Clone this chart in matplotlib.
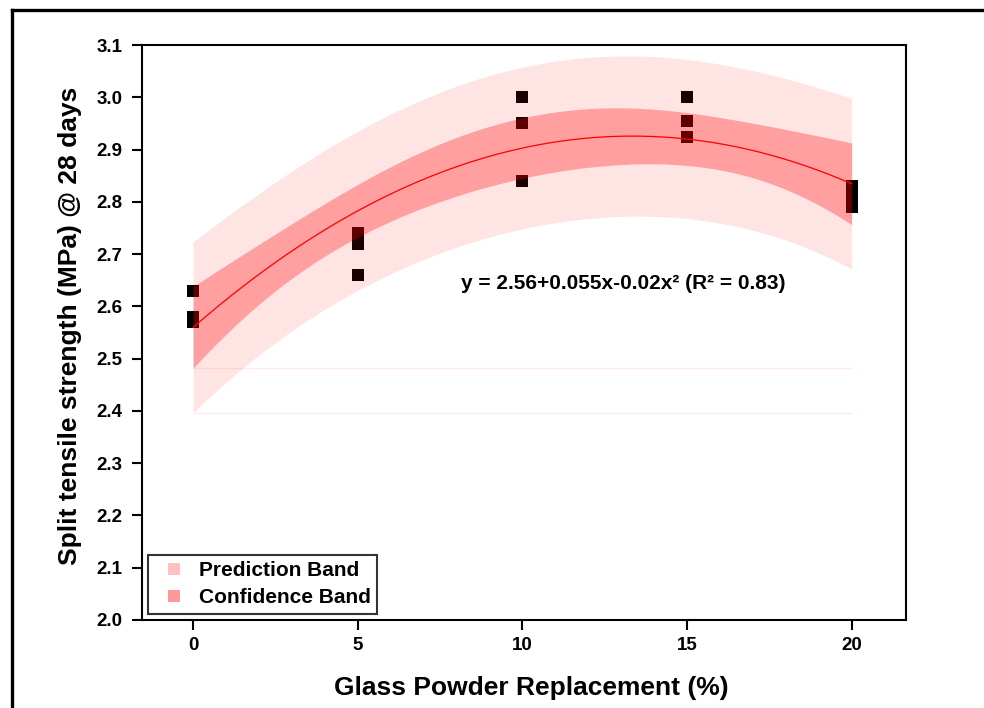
import numpy as np
import matplotlib
matplotlib.use("Agg")
import matplotlib.pyplot as plt
from matplotlib.lines import Line2D

plt.rcParams['font.family'] = ['Liberation Sans', 'DejaVu Sans']
plt.rcParams['font.weight'] = 'bold'

# --- data ---
glass_pct = [0, 0, 0, 5, 5, 5, 10, 10, 10, 15, 15, 15, 20, 20, 20]
split_strength = [2.63, 2.58, 2.57, 2.74, 2.72, 2.66, 3.00, 2.95, 2.84,
                  3.00, 2.955, 2.925, 2.83, 2.81, 2.79]
x_ticks = [0, 5, 10, 15, 20]
y_ticks = [2.0, 2.1, 2.2, 2.3, 2.4, 2.5, 2.6, 2.7, 2.8, 2.9, 3.0, 3.1]
equation = "y = 2.56+0.055x-0.02x\u00b2 (R\u00b2 = 0.83)"
T_95 = 2.1788  # t(0.975, dof=12)

# --- quadratic fit with 95% confidence / prediction bands ---
x = np.array(glass_pct, dtype=float)
y = np.array(split_strength)
X = np.column_stack([np.ones_like(x), x, x ** 2])
beta, *_ = np.linalg.lstsq(X, y, rcond=None)
resid = y - X @ beta
s2 = resid @ resid / (len(x) - 3)
XtX_inv = np.linalg.inv(X.T @ X)

xs = np.linspace(min(x_ticks), max(x_ticks), 300)
Xs = np.column_stack([np.ones_like(xs), xs, xs ** 2])
fit = Xs @ beta
h = np.einsum('ij,jk,ik->i', Xs, XtX_inv, Xs)
conf = T_95 * np.sqrt(s2 * h)
pred = T_95 * np.sqrt(s2 * (1 + h))

fig = plt.figure(figsize=(9.84, 7.08), dpi=100)
ax = fig.add_axes([0.1443, 0.1243, 0.7764, 0.8121])

ax.scatter(x, y, marker='s', s=80, color='black', linewidths=0, zorder=1)
ax.fill_between(xs, fit - pred, fit + pred, color='red', alpha=0.106,
                linewidth=0, zorder=2)
ax.fill_between(xs, fit - conf, fit + conf, color='red', alpha=0.30,
                linewidth=0, zorder=3)
# faint baseline artifacts seen in the original
ax.hlines([fit[0] - conf[0], fit[0] - pred[0]], xs[0], xs[-1],
          color='red', alpha=0.08, linewidth=1, zorder=2)
ax.plot(xs, fit, color='red', linewidth=0.9, zorder=4)

ax.text(8.15, 2.643, equation, fontsize=15, fontweight='bold', va='center')

ax.set_xlim(-1.55, 21.65)
ax.set_ylim(2.0, 3.1)
ax.set_xticks(x_ticks)
ax.set_yticks(y_ticks)
ax.set_yticklabels([f"{v:.1f}" for v in y_ticks])
ax.tick_params(direction='out', length=7, width=1.5, labelsize=13.5, pad=5)
ax.tick_params(axis='y', pad=7)
for sp in ax.spines.values():
    sp.set_linewidth(1.5)

ax.set_xlabel("Glass Powder Replacement (%)", fontsize=19, fontweight='bold')
ax.set_ylabel("Split tensile strength (MPa) @ 28 days", fontsize=19,
              fontweight='bold')
ax.xaxis.set_label_coords(0.51, -0.098)
ax.yaxis.set_label_coords(-0.0785, 0.511)

handles = [Line2D([], [], marker='s', linestyle='none', markersize=8.6,
                  markerfacecolor='#ffc0c0', markeredgewidth=0,
                  label='Prediction Band'),
           Line2D([], [], marker='s', linestyle='none', markersize=8.6,
                  markerfacecolor='#ff9999', markeredgewidth=0,
                  label='Confidence Band')]
leg = ax.legend(handles=handles, loc='lower left', fontsize=15, frameon=True,
                fancybox=False, edgecolor='black', handlelength=1.9,
                handletextpad=0.25, borderpad=0.3, labelspacing=0.4,
                borderaxespad=0.3)
leg.get_frame().set_linewidth(1.5)
for t in leg.get_texts():
    t.set_fontweight('bold')

# outer frame lines (left and top)
fig.add_artist(Line2D([11.5 / 984, 11.5 / 984], [0, 1 - 10 / 708],
                      transform=fig.transFigure, color='black', linewidth=2.4))
fig.add_artist(Line2D([11.5 / 984, 1], [1 - 10 / 708, 1 - 10 / 708],
                      transform=fig.transFigure, color='black', linewidth=2.4))

fig.savefig("out.png", dpi=100)
